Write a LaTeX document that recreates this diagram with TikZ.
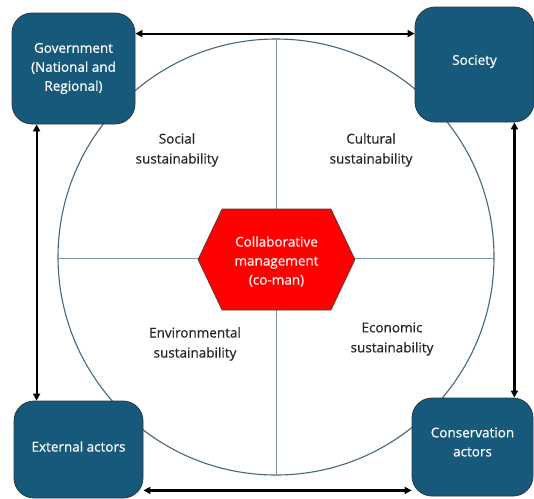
\documentclass[tikz,border=0pt]{standalone}
\usepackage{fontspec}
\setmainfont{Open Sans}[FakeBold=0.6]
\usetikzlibrary{arrows.meta}
\definecolor{boxblue}{RGB}{22,89,122}
\definecolor{boxedge}{RGB}{38,58,70}
\definecolor{ringcol}{RGB}{72,102,122}
\definecolor{splitcol}{RGB}{128,148,162}
\definecolor{labelcol}{RGB}{38,38,38}
\definecolor{hexred}{RGB}{255,0,0}
\tikzset{
  actor/.style={draw=boxedge, line width=0.8pt, fill=boxblue, rounded corners=20pt, inner sep=0pt},
  actortext/.style={text=white, align=center, font=\fontsize{13.5}{19}\selectfont},
  pillar/.style={text=labelcol, align=center, font=\fontsize{13.5}{20}\selectfont},
  hublabel/.style={text=white!95!red, align=center, font=\fontsize{13.5}{19}\selectfont},
  link/.style={line width=2.2pt, {Triangle[length=7pt,width=7pt]}-{Triangle[length=7pt,width=7pt]}},
}
\begin{document}
\begin{tikzpicture}[x=1pt,y=-1pt]
\useasboundingbox (0,0) rectangle (534,498);

% sustainability wheel
\draw[ringcol, line width=1.1pt] (276,257) circle[radius=218];
\draw[splitcol, line width=1pt] (58,258) -- (494,258);
\draw[splitcol, line width=1pt] (276.5,39) -- (276.5,475);

% collaborative management hub
\path[fill=hexred, draw=black!75, line width=0.6pt]
  (198,259.5) -- (222,209) -- (331,209) -- (355,259.5) -- (331,310) -- (222,310) -- cycle;
\node[hublabel] (hub) at (276.5,261.5) {Collaborative\\management\\(co-man)};

% quadrant labels
\node[pillar] (social) at (177,150) {Social\\sustainability};
\node[pillar] (cultural) at (371,150) {Cultural\\sustainability};
\node[pillar] (environ) at (195,344) {Environmental\\sustainability};
\node[pillar] (economic) at (392,339) {Economic\\sustainability};

% actors in the corners
\node[actor, minimum width=123pt, minimum height=111pt,
  label={[actortext]center:Government\\(National and\\Regional)}] (govt) at (73.5,68.5) {};
\node[actor, minimum width=119pt, minimum height=115pt,
  label={[actortext, yshift=3pt]center:Society}] (soc) at (474.5,64.5) {};
\node[actor, minimum width=129pt, minimum height=97pt,
  label={[actortext, yshift=3pt]center:External actors}] (ext) at (78.5,449.5) {};
\node[actor, minimum width=121pt, minimum height=98pt,
  label={[actortext, yshift=5pt]center:Conservation\\actors}] (cons) at (472.5,447) {};

% two-way links between the actors
\coordinate (topl) at ([yshift=-21pt]govt.north east);
\draw[link] (topl) -- (topl -| soc.west);
\coordinate (botl) at ([yshift=8pt]ext.south east);
\draw[link] (botl) -- (botl -| cons.west);
\coordinate (leftl) at ([xshift=25pt]govt.south west);
\draw[link] (leftl) -- (leftl |- ext.north);
\coordinate (rightl) at ([xshift=-20pt]soc.south east);
\draw[link] (rightl) -- (rightl |- cons.north);
\end{tikzpicture}
\end{document}
